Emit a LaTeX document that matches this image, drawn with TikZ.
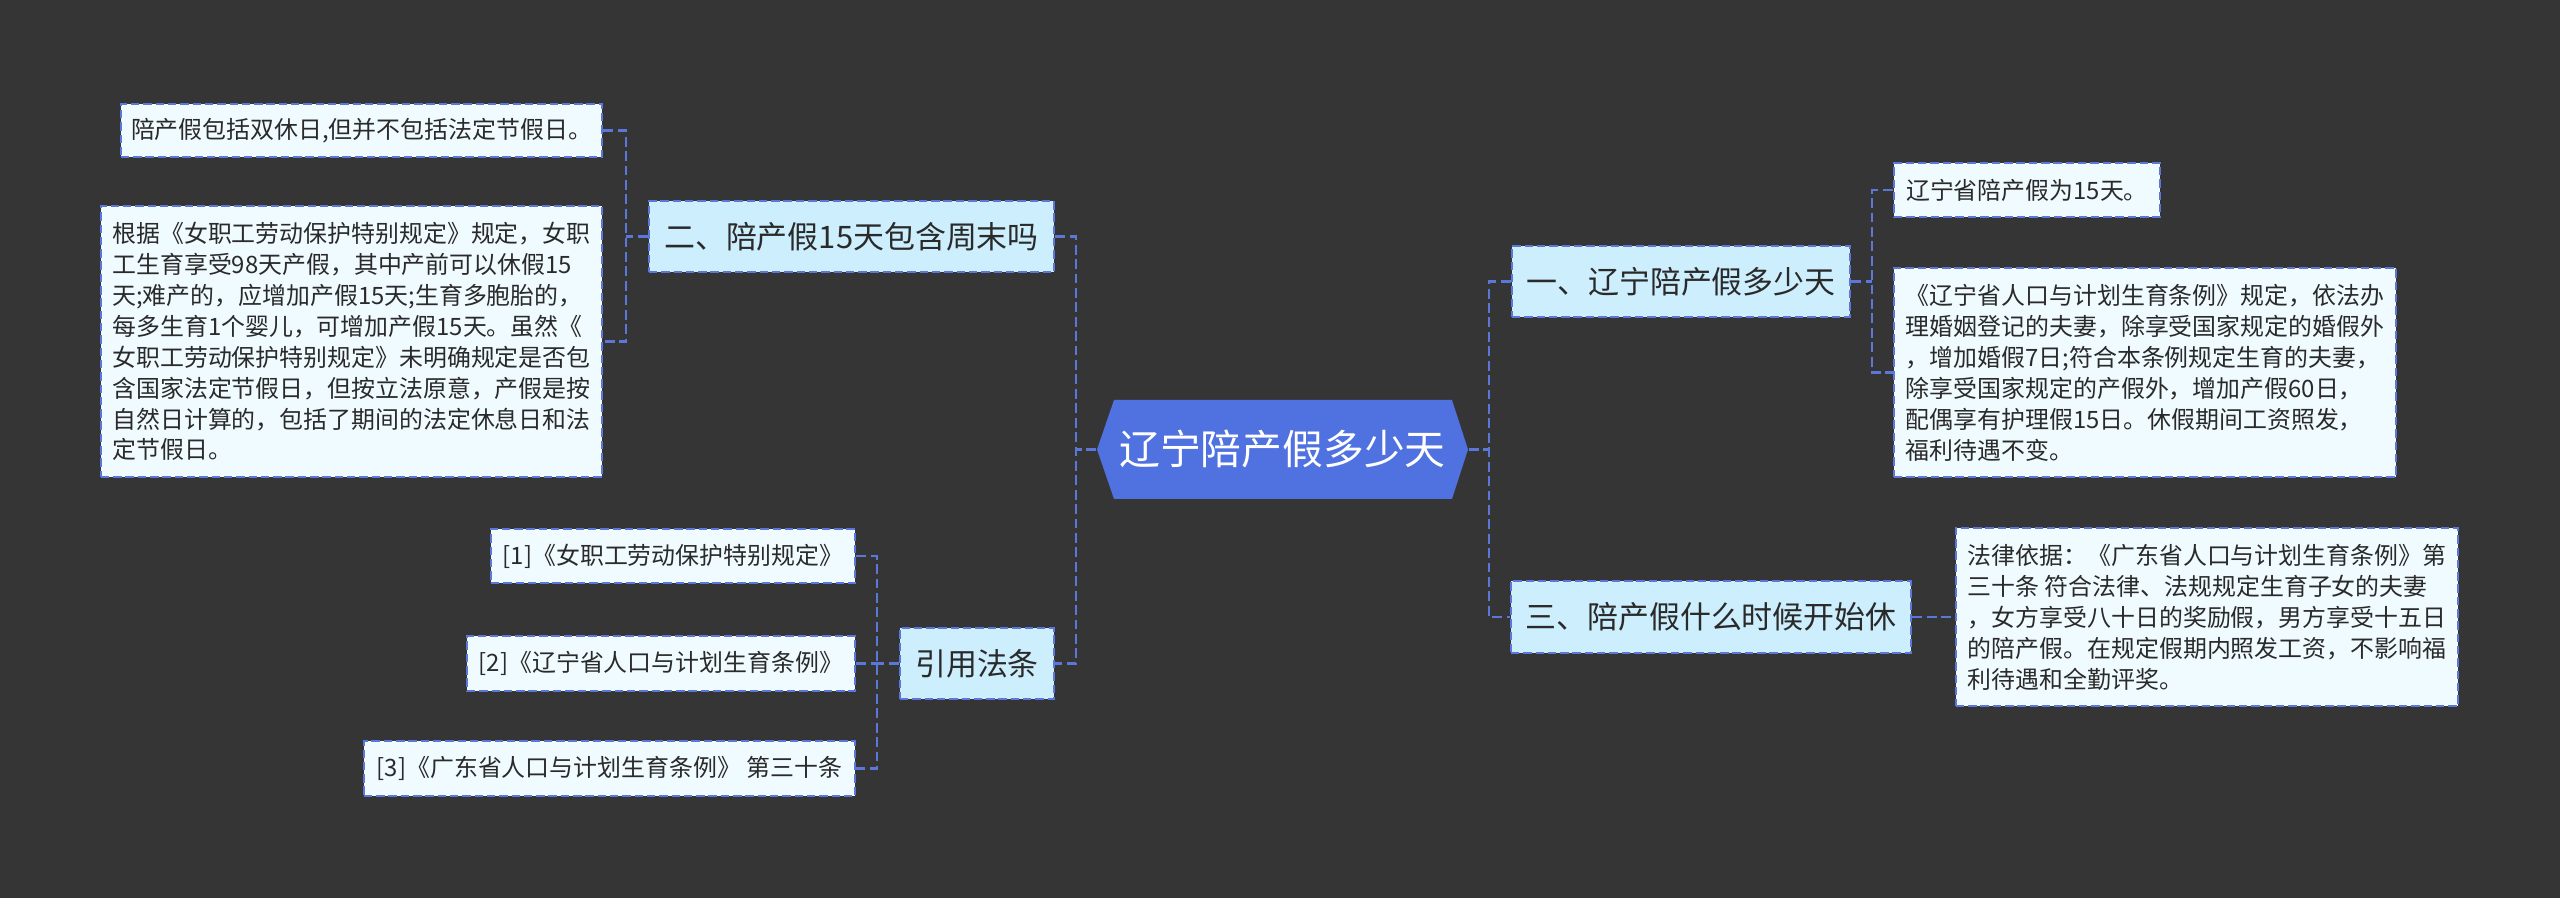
\documentclass[tikz,border=0pt]{standalone}
\usepackage{fontspec}
\setmainfont{Noto Sans CJK SC}
\definecolor{bgdark}{HTML}{363535}
\definecolor{rootblue}{HTML}{5071E0}
\definecolor{lineblue}{HTML}{5B77DC}
\definecolor{topicfill}{HTML}{CCEEFD}
\definecolor{leaffill}{HTML}{F0FBFF}
\definecolor{textdark}{HTML}{2A2A2A}
\tikzset{
  link/.style={draw=lineblue, line width=0.75pt, dash pattern=on 2.8pt off 1.3pt},
  boxline/.style={draw=lineblue, line width=0.7pt, dash pattern=on 2.4pt off 1.1pt},
  roottext/.style={text=white, font=\fontsize{11.6}{13}\selectfont, inner sep=0pt},
  topic/.style={boxline, fill=topicfill, text=textdark, font=\fontsize{8.8}{10.5}\selectfont, inner sep=0pt},
  leaf/.style={boxline, fill=leaffill, text=textdark, font=\fontsize{6.8}{8.8}\selectfont, align=left, inner sep=0pt},
}
\begin{document}
\begin{tikzpicture}[x=0.01cm, y=-0.01cm]
  \fill[bgdark] (0,0) rectangle (2560,898);
  \useasboundingbox (0,0) rectangle (2560,898);

  % 中心主题
  \fill[rootblue] (1097,449.5) -- (1114,400) -- (1452,400) -- (1468,449.5) -- (1452,499) -- (1114,499) -- cycle;
  \node[roottext, minimum width=3.71cm, minimum height=0.99cm] (root) at (1282.5,449.5) {辽宁陪产假多少天};

  % 右侧分支
  \node[topic, minimum width=3.38cm, minimum height=0.71cm] (n1) at (1681,281.5) {一、辽宁陪产假多少天};
  \node[topic, minimum width=4.00cm, minimum height=0.72cm] (n3) at (1711,617) {三、陪产假什么时候开始休};

  \node[leaf, minimum width=2.66cm, minimum height=0.54cm] (a1) at (2027,190) {辽宁省陪产假为15天。};
  \node[leaf, minimum width=5.02cm, minimum height=2.09cm] (a2) at (2145,372.5) {《辽宁省人口与计划生育条例》规定，依法办\\
理婚姻登记的夫妻，除享受国家规定的婚假外\\
，增加婚假7日;符合本条例规定生育的夫妻，\\
除享受国家规定的产假外，增加产假60日，\\
配偶享有护理假15日。休假期间工资照发，\\
福利待遇不变。};
  \node[leaf, minimum width=5.02cm, minimum height=1.78cm] (c1) at (2207,617) {法律依据：《广东省人口与计划生育条例》第\\
三十条 符合法律、法规规定生育子女的夫妻\\
，女方享受八十日的奖励假，男方享受十五日\\
的陪产假。在规定假期内照发工资，不影响福\\
利待遇和全勤评奖。};

  % 左侧分支
  \node[topic, minimum width=4.05cm, minimum height=0.71cm] (n2) at (851.5,236.5) {二、陪产假15天包含周末吗};
  \node[topic, minimum width=1.54cm, minimum height=0.71cm] (nref) at (977,663.5) {引用法条};

  \node[leaf, minimum width=4.81cm, minimum height=0.53cm] (b1) at (361.5,130.5) {陪产假包括双休日,但并不包括法定节假日。};
  \node[leaf, minimum width=5.01cm, minimum height=2.71cm] (b2) at (351.5,341.5) {根据《女职工劳动保护特别规定》规定，女职\\
工生育享受98天产假，其中产前可以休假15\\
天;难产的，应增加产假15天;生育多胞胎的，\\
每多生育1个婴儿，可增加产假15天。虽然《\\
女职工劳动保护特别规定》未明确规定是否包\\
含国家法定节假日，但按立法原意，产假是按\\
自然日计算的，包括了期间的法定休息日和法\\
定节假日。};

  \node[leaf, minimum width=3.64cm, minimum height=0.54cm] (r1) at (673,556) {[1]《女职工劳动保护特别规定》};
  \node[leaf, minimum width=3.88cm, minimum height=0.55cm] (r2) at (661,663.5) {[2]《辽宁省人口与计划生育条例》};
  \node[leaf, minimum width=4.91cm, minimum height=0.55cm] (r3) at (609.5,768.5) {[3]《广东省人口与计划生育条例》 第三十条};

  % 连线
  \coordinate (jl) at (1076,449.5);
  \coordinate (jr) at (1489,449.5);
  \coordinate (j1) at (1872,281.5);
  \coordinate (j2) at (626,236.5);
  \coordinate (jref) at (877,663.5);

  \draw[link] (root.west) -- (jl);
  \draw[link] (n2.east) -| (jl) |- (nref.east);
  \draw[link] (root.east) -- (jr);
  \draw[link] (n1.west) -| (jr) |- (n3.west);

  \draw[link] (n1.east) -- (j1);
  \draw[link] (a1.west) -| (j1) |- (a2.west);
  \draw[link] (n3.east) -- (c1.west);

  \draw[link] (n2.west) -- (j2);
  \draw[link] (b1.east) -| (j2) |- (b2.east);

  \draw[link] (nref.west) -- (jref);
  \draw[link] (r1.east) -| (jref) |- (r3.east);
  \draw[link] (r2.east) -- (jref);
\end{tikzpicture}
\end{document}
